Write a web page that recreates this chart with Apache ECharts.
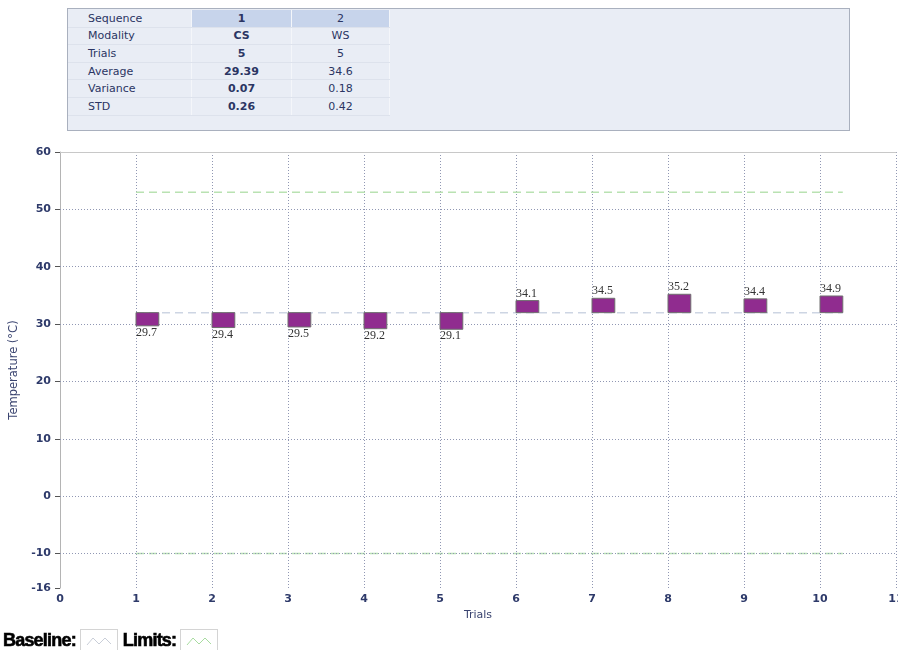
<!DOCTYPE html>
<html>
<head>
<meta charset="utf-8">
<script src="https://cdn.jsdelivr.net/npm/echarts@6/dist/echarts.min.js"></script>
<style>
  body { margin: 0; background: #fff; }
  #wrap { position: relative; width: 898px; height: 650px; overflow: hidden; }
  #chart { position: absolute; left: 0; top: 0; width: 898px; height: 650px; }
  #stats {
    position: absolute; left: 67px; top: 8px; width: 781px; height: 121px;
    background: #e9edf5; border: 1px solid #a9b0be; z-index: 2;
  }
  #stats table { border-collapse: collapse; margin-top: 1px; font: 11px "DejaVu Sans", Verdana, sans-serif; color: #2b3563; }
  #stats td { height: 16.6px; padding: 0; border-bottom: 1px solid #dde2ec; border-right: 1px solid #f4f6fa; }
  #stats td.lbl { width: 103px; padding-left: 20px; }
  #stats td.v1 { width: 99px; text-align: center; font-weight: bold; }
  #stats td.v2 { width: 97px; text-align: center; }
  #stats tr.head td.v1, #stats tr.head td.v2 { background: #c7d4eb; }
  #legend {
    position: absolute; left: 3px; top: 629px; z-index: 2;
    font: bold 18px "Liberation Sans", Arial, sans-serif; letter-spacing: -0.8px; color: #000;
    -webkit-text-stroke: 0.6px #000;
    display: flex; align-items: center;
  }
  #legend .box { display: inline-block; width: 36px; height: 20px; border: 1px solid #d4d4d4; margin: 0 5px 0 4px; }
</style>
</head>
<body>
<div id="wrap">
  <div id="chart"></div>
  <div id="stats"><table id="stats-table"></table></div>
  <div id="legend"></div>
</div>
<script>
// summary table
const rowLabels = ['Sequence', 'Modality', 'Trials', 'Average', 'Variance', 'STD'];
const seq1Values = ['1', 'CS', '5', '29.39', '0.07', '0.26'];
const seq2Values = ['2', 'WS', '5', '34.6', '0.18', '0.42'];

// trials
const trials = [1, 2, 3, 4, 5, 6, 7, 8, 9, 10];
const temps = [29.7, 29.4, 29.5, 29.2, 29.1, 34.1, 34.5, 35.2, 34.4, 34.9];

// reference lines
const baseline = 32;
const upperLimit = 53;
const lowerLimit = -10;
const refFrom = 1;
const refTo = 10.3;

// axis ticks
const yTicks = [-16, -10, 0, 10, 20, 30, 40, 50, 60];
const yGridValues = [-10, 0, 10, 20, 30, 40, 50];

const NAVY = '#2e3a6a';
const GRID = '#9097b3';

document.getElementById('stats-table').innerHTML = rowLabels.map((l, i) =>
  `<tr class="${i === 0 ? 'head' : ''}"><td class="lbl">${l}</td><td class="v1">${seq1Values[i]}</td><td class="v2">${seq2Values[i]}</td></tr>`
).join('');

const wave = c => `<svg width="36" height="20"><polyline points="6,15 12,8 18,14 24,8 30,14" fill="none" stroke="${c}" stroke-width="1"/></svg>`;
document.getElementById('legend').innerHTML =
  `Baseline:<span class="box">${wave('#c9ced8')}</span>Limits:<span class="box">${wave('#a8dca0')}</span>`;

function renderBar(params, api) {
  const x = api.value(0);
  const v = api.value(1);
  const p0 = api.coord([x, baseline]);
  const p1 = api.coord([x + 0.3, v]);
  const top = Math.min(p0[1], p1[1]);
  const h = Math.abs(p1[1] - p0[1]);
  const below = v < baseline;
  return {
    type: 'group',
    children: [
      {
        type: 'rect',
        shape: { x: p0[0], y: top, width: p1[0] - p0[0], height: h },
        style: { fill: '#902c8f', stroke: '#6f6f6f', lineWidth: 1 }
      },
      {
        type: 'text',
        style: {
          text: v.toFixed(1),
          x: p0[0],
          y: below ? top + h + 1 : top - 1,
          align: 'left',
          verticalAlign: below ? 'top' : 'bottom',
          font: '12px "Liberation Serif", "Times New Roman", serif',
          fill: '#333'
        }
      }
    ]
  };
}

const refLine = (val, color) => ({
  type: 'line',
  data: [[refFrom, val], [refTo, val]],
  symbol: 'none',
  silent: true,
  z: 1,
  lineStyle: { color: color, width: 1.5, type: [8, 5] }
});

const chart = echarts.init(document.getElementById('chart'));
chart.setOption({
  animation: false,
  grid: { left: 60, right: 2, top: 152, bottom: 62, outerBoundsMode: 'none' },
  xAxis: [
    {
      type: 'value',
      min: 0, max: 11, interval: 1,
      name: 'Trials',
      nameLocation: 'middle',
      nameGap: 19,
      nameTextStyle: { color: '#3a4470', fontSize: 11, fontFamily: 'DejaVu Sans' },
      axisLine: { show: false },
      axisTick: { show: false },
      axisLabel: { color: NAVY, fontWeight: 'bold', fontSize: 11, fontFamily: 'DejaVu Sans', margin: 6 },
      splitLine: { show: true, lineStyle: { color: GRID, type: [1, 2] } }
    },
    {
      type: 'value',
      position: 'top',
      min: 0, max: 11,
      axisLine: { show: true, lineStyle: { color: '#c8c8c8' } },
      axisTick: { show: false },
      axisLabel: { show: false },
      splitLine: { show: false }
    }
  ],
  yAxis: {
    type: 'value',
    min: -16, max: 60,
    name: 'Temperature (°C)',
    nameLocation: 'middle',
    nameGap: 36,
    nameTextStyle: { color: '#3a4470', fontSize: 11.5, fontFamily: 'DejaVu Sans' },
    axisLine: { show: true, lineStyle: { color: '#b4b4b4' } },
    axisTick: { show: true, length: 5, customValues: yTicks, lineStyle: { color: '#555' } },
    axisLabel: { color: NAVY, fontWeight: 'bold', fontSize: 11, fontFamily: 'DejaVu Sans', margin: 9, customValues: yTicks },
    splitLine: { show: false }
  },
  series: [
    {
      type: 'line',
      silent: true,
      data: [],
      markLine: {
        silent: true,
        symbol: 'none',
        label: { show: false },
        lineStyle: { color: GRID, type: [1, 2], width: 1 },
        data: yGridValues.map(v => ({ yAxis: v }))
      }
    },
    refLine(baseline, '#cdd5e3'),
    refLine(upperLimit, '#b9e2b2'),
    refLine(lowerLimit, '#b9e2b2'),
    {
      type: 'custom',
      renderItem: renderBar,
      data: trials.map((t, i) => [t, temps[i]]),
      z: 5
    }
  ]
});
</script>
</body>
</html>
